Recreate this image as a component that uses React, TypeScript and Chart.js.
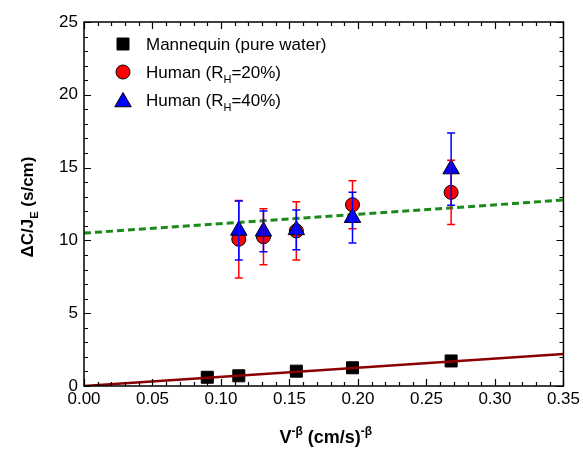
import React, { useEffect, useRef } from "react";
import { Chart, registerables } from "chart.js";

Chart.register(...registerables);

// ---- data ----
const mannequinX = [0.09, 0.113, 0.155, 0.196, 0.268];
const mannequinY = [0.6, 0.7, 1.02, 1.25, 1.72];
const humanX = [0.113, 0.131, 0.155, 0.196, 0.268];
const human20Y = [10.08, 10.25, 10.65, 12.45, 13.3];
const human20Err = [2.66, 1.93, 2.0, 1.65, 2.2];
const human40Y = [10.68, 10.62, 10.72, 11.56, 14.9];
const human40Err = [2.03, 1.4, 1.36, 1.74, 2.48];
const mannequinFitX = [0, 0.35];
const mannequinFitY = [0, 2.2];
const humanFitX = [0, 0.35];
const humanFitY = [10.5, 12.77];
const xTickValues = [0, 0.05, 0.1, 0.15, 0.2, 0.25, 0.3, 0.35];
const yTickValues = [0, 5, 10, 15, 20, 25];

const FONT = "'Liberation Sans', Arial, sans-serif";
const RED = "#ff0000";
const BLUE = "#0000ff";

type Seg = { t: string; size: number; bold?: boolean; dy?: number };

function segFont(s: Seg) {
  return `${s.bold ? "bold " : ""}${s.size}px ${FONT}`;
}

function drawRich(ctx: CanvasRenderingContext2D, segs: Seg[], x: number, y: number, align: "left" | "center") {
  let total = 0;
  for (const s of segs) {
    ctx.font = segFont(s);
    total += ctx.measureText(s.t).width;
  }
  let cx = align === "center" ? x - total / 2 : x;
  ctx.textBaseline = "alphabetic";
  ctx.textAlign = "left";
  for (const s of segs) {
    ctx.font = segFont(s);
    ctx.fillText(s.t, cx, y + (s.dy || 0));
    cx += ctx.measureText(s.t).width;
  }
}

function drawMarker(ctx: CanvasRenderingContext2D, kind: string, x: number, y: number, fill: string) {
  ctx.save();
  ctx.fillStyle = fill;
  ctx.strokeStyle = "#000";
  ctx.lineWidth = 1;
  ctx.beginPath();
  if (kind === "rect") {
    ctx.rect(x - 6, y - 6, 12, 12);
  } else if (kind === "circle") {
    ctx.arc(x, y, 7, 0, Math.PI * 2);
  } else {
    const r = 9.5;
    ctx.moveTo(x, y - r);
    ctx.lineTo(x + r * 0.866, y + r / 2);
    ctx.lineTo(x - r * 0.866, y + r / 2);
    ctx.closePath();
  }
  ctx.fill();
  ctx.stroke();
  ctx.restore();
}

const errorBarPlugin = {
  id: "errorBars",
  afterDatasetsDraw(chart: any) {
    const { ctx, scales } = chart;
    const xs = scales.x;
    const ys = scales.y;
    const sets: [number[], number[], number[], string][] = [
      [humanX, human20Y, human20Err, RED],
      [humanX, human40Y, human40Err, BLUE],
    ];
    ctx.save();
    ctx.lineWidth = 1.5;
    for (const [X, Y, E, col] of sets) {
      ctx.strokeStyle = col;
      for (let i = 0; i < X.length; i++) {
        const px = xs.getPixelForValue(X[i]);
        const top = ys.getPixelForValue(Y[i] + E[i]);
        const bot = ys.getPixelForValue(Y[i] - E[i]);
        ctx.beginPath();
        ctx.moveTo(px, top);
        ctx.lineTo(px, bot);
        ctx.moveTo(px - 4, top);
        ctx.lineTo(px + 4, top);
        ctx.moveTo(px - 4, bot);
        ctx.lineTo(px + 4, bot);
        ctx.stroke();
      }
    }
    ctx.restore();
  },
};

const framePlugin = {
  id: "frameTicks",
  afterDraw(chart: any) {
    const { ctx, chartArea: a, scales } = chart;
    const xs = scales.x;
    const ys = scales.y;
    ctx.save();
    ctx.strokeStyle = "#000";
    ctx.lineWidth = 1.5;
    ctx.strokeRect(a.left, a.top, a.right - a.left, a.bottom - a.top);
    ctx.lineWidth = 1.2;
    ctx.beginPath();
    for (let i = 0; i <= 35; i++) {
      const v = i / 100;
      const major = i % 5 === 0;
      const L = major ? 7 : 4;
      const px = Math.round(xs.getPixelForValue(v)) + 0.5;
      ctx.moveTo(px, a.bottom);
      ctx.lineTo(px, a.bottom - L);
      ctx.moveTo(px, a.top);
      ctx.lineTo(px, a.top + L);
    }
    for (let i = 0; i <= 25; i++) {
      const major = i % 5 === 0;
      const L = major ? 7 : 4;
      const py = Math.round(ys.getPixelForValue(i)) + 0.5;
      ctx.moveTo(a.left, py);
      ctx.lineTo(a.left + L, py);
      ctx.moveTo(a.right, py);
      ctx.lineTo(a.right - L, py);
    }
    ctx.stroke();

    // legend
    ctx.fillStyle = "#000";
    const lx = 123;
    const tx = 146;
    drawMarker(ctx, "rect", lx, 44, "#000");
    drawRich(ctx, [{ t: "Mannequin (pure water)", size: 17 }], tx, 50, "left");
    drawMarker(ctx, "circle", lx, 72, RED);
    ctx.fillStyle = "#000";
    drawRich(
      ctx,
      [
        { t: "Human (R", size: 17 },
        { t: "H", size: 11, dy: 5 },
        { t: "=20%)", size: 17 },
      ],
      tx,
      78,
      "left"
    );
    drawMarker(ctx, "tri", lx, 102, BLUE);
    ctx.fillStyle = "#000";
    drawRich(
      ctx,
      [
        { t: "Human (R", size: 17 },
        { t: "H", size: 11, dy: 5 },
        { t: "=40%)", size: 17 },
      ],
      tx,
      106,
      "left"
    );

    // axis titles
    const cx = (a.left + a.right) / 2;
    drawRich(
      ctx,
      [
        { t: "V", size: 18, bold: true },
        { t: "-\u03b2", size: 12, bold: true, dy: -8 },
        { t: " (cm/s)", size: 18, bold: true },
        { t: "-\u03b2", size: 12, bold: true, dy: -8 },
      ],
      cx + 2,
      443,
      "center"
    );
    ctx.save();
    ctx.translate(33, (a.top + a.bottom) / 2 + 3);
    ctx.rotate(-Math.PI / 2);
    drawRich(
      ctx,
      [
        { t: "\u0394C/J", size: 17, bold: true },
        { t: "E", size: 11, bold: true, dy: 5 },
        { t: " (s/cm)", size: 17, bold: true },
      ],
      0,
      0,
      "center"
    );
    ctx.restore();
    ctx.restore();
  },
};

export default function App() {
  const ref = useRef<HTMLCanvasElement | null>(null);
  useEffect(() => {
    if (!ref.current) return;
    const pts = (X: number[], Y: number[]) => X.map((x, i) => ({ x, y: Y[i] }));
    const chart = new Chart(ref.current, {
      type: "scatter",
      data: {
        datasets: [
          {
            type: "line",
            data: pts(mannequinFitX, mannequinFitY),
            borderColor: "#8b0000",
            borderWidth: 2.5,
            pointRadius: 0,
            showLine: true,
            order: 0,
          } as any,
          {
            type: "line",
            data: pts(humanFitX, humanFitY),
            borderColor: "#1a8a1a",
            borderWidth: 3,
            borderDash: [7, 4],
            pointRadius: 0,
            showLine: true,
            order: 4,
          } as any,
          {
            data: pts(mannequinX, mannequinY),
            pointStyle: "rect",
            pointRadius: 8.5,
            backgroundColor: "#000",
            borderColor: "#000",
            borderWidth: 1,
            order: 3,
          },
          {
            data: pts(humanX, human20Y),
            pointStyle: "circle",
            pointRadius: 7,
            backgroundColor: RED,
            borderColor: "#000",
            borderWidth: 1,
            order: 2,
          },
          {
            data: pts(humanX, human40Y),
            pointStyle: "triangle",
            pointRadius: 9.5,
            backgroundColor: BLUE,
            borderColor: "#000",
            borderWidth: 1,
            order: 1,
          },
        ],
      },
      options: {
        animation: false,
        responsive: false,
        layout: { padding: { top: 22, right: 17, left: 0, bottom: 0 } },
        plugins: { legend: { display: false }, tooltip: { enabled: false } },
        scales: {
          x: {
            type: "linear",
            min: 0,
            max: 0.35,
            afterBuildTicks: (s: any) => {
              s.ticks = xTickValues.map((v) => ({ value: v }));
            },
            afterFit: (s: any) => {
              s.height = 63;
            },
            ticks: {
              padding: 3,
              color: "#000",
              font: { size: 17, family: FONT },
              callback: (v: any) => Number(v).toFixed(2),
              maxRotation: 0,
              autoSkip: false,
            },
            grid: { display: false, drawTicks: false },
            border: { display: false },
          },
          y: {
            type: "linear",
            min: 0,
            max: 25,
            afterBuildTicks: (s: any) => {
              s.ticks = yTickValues.map((v) => ({ value: v }));
            },
            afterFit: (s: any) => {
              s.width = 84;
            },
            ticks: {
              padding: 6,
              color: "#000",
              font: { size: 17, family: FONT },
              autoSkip: false,
            },
            grid: { display: false, drawTicks: false },
            border: { display: false },
          },
        },
      },
      plugins: [errorBarPlugin, framePlugin],
    } as any);
    return () => chart.destroy();
  }, []);
  return (
    <div style={{ position: "fixed", left: 0, top: 0, width: 583, height: 449, background: "#fff" }}>
      <canvas ref={ref} width={583} height={449} style={{ width: 583, height: 449 }} />
    </div>
  );
}
